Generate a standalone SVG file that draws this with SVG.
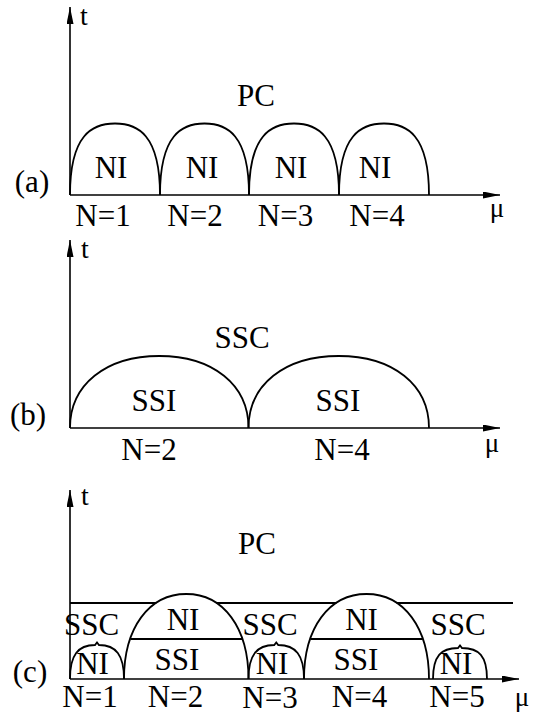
<svg xmlns="http://www.w3.org/2000/svg" width="537" height="714" viewBox="0 0 537 714">
<style>
.ax{stroke:#000;stroke-width:1.6;fill:none}
.cv{stroke:#000;stroke-width:1.8;fill:none}
text{font-size:31px;fill:#000;text-anchor:middle}
text.t{font-size:28px;text-anchor:start}
text.mu{font-size:27px}
</style>
<defs>
<marker id="ah" markerUnits="userSpaceOnUse" markerWidth="18" markerHeight="8" refX="17" refY="3.5" orient="auto">
<path d="M0,0 L17,3.5 L0,7 z" fill="#000"/>
</marker>
</defs>

<g id="panel-a">
<g id="axes-a" class="connectors">
<line class="ax" x1="70" y1="195" x2="70" y2="7" marker-end="url(#ah)"/>
<line class="ax" x1="70" y1="195" x2="500" y2="195" marker-end="url(#ah)"/>
</g>
<g id="curves-a">
<path class="cv" d="M70,195 C70,134.2 92.5,123.5 115,123.5 C137.5,123.5 160,134.2 160,195"/>
<path class="cv" d="M160,195 C160,134.2 182.25,123.5 204.5,123.5 C226.75,123.5 249,134.2 249,195"/>
<path class="cv" d="M249,195 C249,134.2 271.5,123.5 294,123.5 C316.5,123.5 339,134.2 339,195"/>
<path class="cv" d="M339,195 C339,134.2 361.5,123.5 384,123.5 C406.5,123.5 429,134.2 429,195"/>
</g>
<g id="labels-a" font-family="Liberation Serif, serif">
<text class="t" x="80" y="25">t</text>
<text x="256" y="106">PC</text>
<text x="111" y="178">NI</text>
<text x="202" y="178">NI</text>
<text x="291" y="178">NI</text>
<text x="375" y="178">NI</text>
<text x="32" y="192">(a)</text>
<text x="103" y="226">N=1</text>
<text x="195" y="226">N=2</text>
<text x="285.5" y="226">N=3</text>
<text x="377" y="226">N=4</text>
<text class="mu" x="497" y="217">μ</text>
</g>
</g>

<g id="panel-b">
<g id="axes-b" class="connectors">
<line class="ax" x1="70" y1="428" x2="70" y2="240" marker-end="url(#ah)"/>
<line class="ax" x1="70" y1="428" x2="500" y2="428" marker-end="url(#ah)"/>
</g>
<g id="curves-b">
<path class="cv" d="M70,428 C70,384.8 105.7,356 159.25,356 C212.8,356 248.5,384.8 248.5,428"/>
<path class="cv" d="M248.5,428 C248.5,384.8 284.6,356 338.75,356 C392.9,356 429,384.8 429,428"/>
</g>
<g id="labels-b" font-family="Liberation Serif, serif">
<text class="t" x="81" y="258">t</text>
<text x="242" y="348">SSC</text>
<text x="154" y="411">SSI</text>
<text x="338" y="411">SSI</text>
<text x="28" y="425">(b)</text>
<text x="149" y="460">N=2</text>
<text x="342" y="460">N=4</text>
<text class="mu" x="492" y="452">μ</text>
</g>
</g>

<g id="panel-c">
<g id="axes-c" class="connectors">
<line class="ax" x1="70" y1="679" x2="70" y2="490" marker-end="url(#ah)"/>
<line class="ax" x1="70" y1="679" x2="519" y2="679" marker-end="url(#ah)"/>
</g>
<g id="curves-c">
<path class="cv" d="M70,603 H156.3 M216.2,603 H336.4 M396.6,603 H513"/>
<path class="cv" d="M124,679 C124,628 148.9,594 186.25,594 C223.6,594 248.5,628 248.5,679"/>
<path class="cv" d="M304,679 C304,628 329,594 366.5,594 C404,594 429,628 429,679"/>
<path class="cv" d="M130.5,639 H242 M310.5,639 H422.5"/>
<path class="cv" d="M70,679 C70,655 78.1,645 95,645 L97,642.5 L99,645 C115.9,645 124,655 124,679"/>
<path class="cv" d="M248.5,679 C248.5,655 256.8,645 274.25,645 L276.25,642.5 L278.25,645 C295.6,645 304,655 304,679"/>
<path class="cv" d="M433,679 C433,656 441.1,648 458,648 L460,645.5 L462,648 C478.9,648 487,656 487,679"/>
</g>
<g id="labels-c" font-family="Liberation Serif, serif">
<text class="t" x="81" y="505">t</text>
<text x="257" y="554">PC</text>
<text x="183" y="630">NI</text>
<text x="361.5" y="630">NI</text>
<text x="91.5" y="635">SSC</text>
<text x="270" y="635">SSC</text>
<text x="458" y="635">SSC</text>
<text x="177" y="670">SSI</text>
<text x="356" y="670">SSI</text>
<text x="92.5" y="674">NI</text>
<text x="272" y="674">NI</text>
<text x="456" y="674">NI</text>
<text x="30" y="682">(c)</text>
<text x="90" y="707">N=1</text>
<text x="175.5" y="707">N=2</text>
<text x="270" y="708">N=3</text>
<text x="359.5" y="707">N=4</text>
<text x="457" y="707">N=5</text>
<text class="mu" x="522" y="706">μ</text>
</g>
</g>
</svg>
